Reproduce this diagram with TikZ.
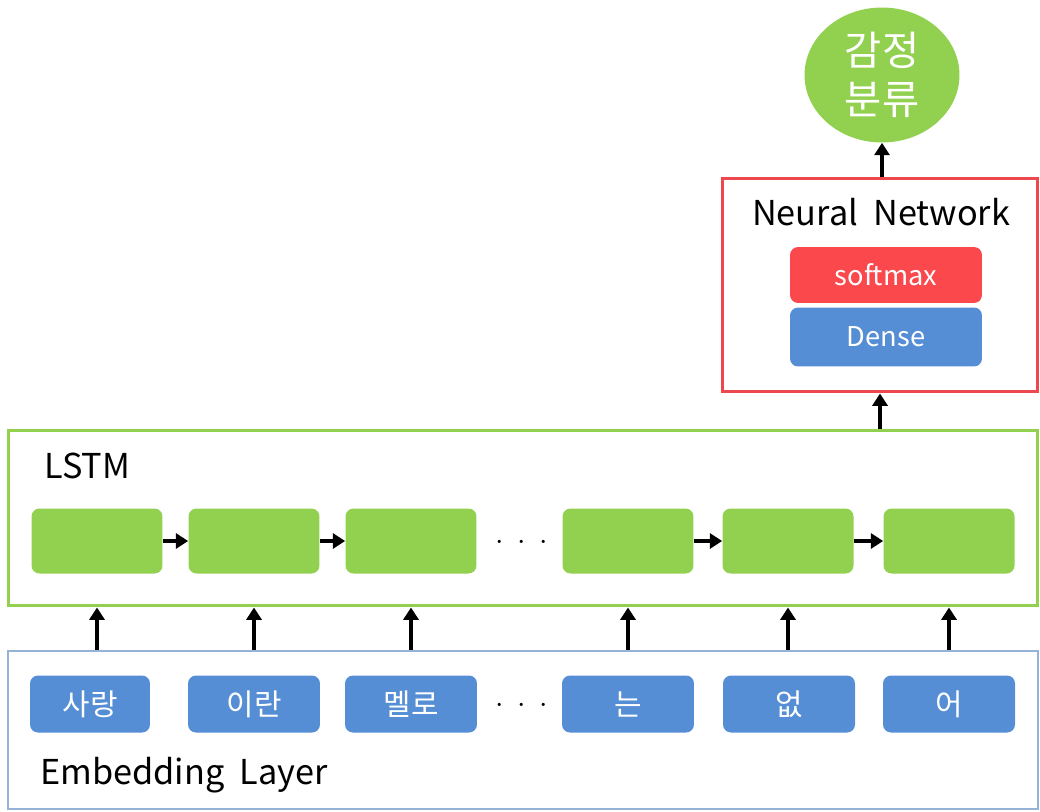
\documentclass[tikz,border=0pt]{standalone}
\usepackage{fontspec}
\setmainfont{Noto Sans CJK KR}
\usetikzlibrary{shapes.geometric,arrows.meta}
\definecolor{cellgreen}{RGB}{146,208,80}
\definecolor{wordblue}{RGB}{85,142,213}
\definecolor{embedline}{RGB}{149,179,215}
\definecolor{nnred}{RGB}{236,72,78}
\definecolor{softred}{RGB}{250,72,76}
\begin{document}
\begin{tikzpicture}[x=0.02cm,y=-0.02cm,
                    cell/.style={rectangle,rounded corners=0.16cm,fill=cellgreen,minimum width=2.62cm,minimum height=1.3cm,inner sep=0pt},
                    word/.style={rectangle,rounded corners=0.16cm,fill=wordblue,text=white,minimum width=2.64cm,minimum height=1.14cm,inner sep=0pt,font=\fontsize{17}{20}\selectfont},
                    layer/.style={rectangle,line width=1.7pt,inner sep=0pt},
                    title/.style={anchor=west,inner sep=0pt,font=\fontsize{19.5}{23}\selectfont},
                    dots/.style={inner sep=0pt,font=\fontsize{17}{17}\selectfont},
                    arr/.style={-{Triangle[length=7pt,width=8.5pt]},line width=2.2pt}
                   ]
  \useasboundingbox (0,0) rectangle (1040,811);

  % layers
  \node[layer,draw=cellgreen,minimum width=20.6cm,minimum height=3.52cm] (lstm) at (523,518) {};
  \node[layer,draw=embedline,line width=1.4pt,minimum width=20.6cm,minimum height=3.16cm] (emb) at (523,730) {};
  \node[layer,draw=nnred,minimum width=6.32cm,minimum height=4.28cm] (nn) at (880,285) {};
  \node[ellipse,fill=cellgreen,text=white,minimum width=3.1cm,minimum height=2.7cm,inner sep=0pt,align=center,
        font=\fontsize{23}{28}\selectfont] (cls) at (882,75) {감정\\분류};

  \node[title] (lstmtext) at (44,466) {LSTM};
  \node[title] (embtext) at (40,775) {Embedding\ \ Layer};
  \node[inner sep=0pt,font=\fontsize{19.5}{23}\selectfont] (nntext) at (881,212) {Neural\ \ Network};

  \node[rectangle,rounded corners=0.16cm,fill=softred,text=white,minimum width=3.84cm,minimum height=1.12cm,
        font=\fontsize{15.5}{18}\selectfont] (soft) at (886,275) {softmax};
  \node[rectangle,rounded corners=0.16cm,fill=wordblue,text=white,minimum width=3.84cm,minimum height=1.18cm,
        font=\fontsize{15.5}{18}\selectfont] (dense) at (886,337) {Dense};

  % lstm cells
  \node[cell] (c1) at (97,541) {};
  \node[cell] (c2) at (254,541) {};
  \node[cell] (c3) at (411,541) {};
  \node[dots] (cdots) at (522,543) {$\cdotp\;\cdotp\;\cdotp$};
  \node[cell] (c4) at (628,541) {};
  \node[cell] (c5) at (788,541) {};
  \node[cell] (c6) at (949,541) {};

  % words
  \node[word,minimum width=2.4cm] (w1) at (90,704) {사랑};
  \node[word] (w2) at (254,704) {이란};
  \node[word] (w3) at (411,704) {멜로};
  \node[dots] (wdots) at (522,706) {$\cdotp\;\cdotp\;\cdotp$};
  \node[word] (w4) at (628,704) {는};
  \node[word] (w5) at (789,704) {없};
  \node[word] (w6) at (949,704) {어};

  \path%
   (c1) edge [arr] (c2)
   (c2) edge [arr] (c3)
   (c4) edge [arr] (c5)
   (c5) edge [arr] (c6)
   (c1 |- emb.north) edge [arr] (c1 |- lstm.south)
   (c2 |- emb.north) edge [arr] (c2 |- lstm.south)
   (c3 |- emb.north) edge [arr] (c3 |- lstm.south)
   (c4 |- emb.north) edge [arr] (c4 |- lstm.south)
   (c5 |- emb.north) edge [arr] (c5 |- lstm.south)
   (c6 |- emb.north) edge [arr] (c6 |- lstm.south)
   (nn.south |- lstm.north) edge [arr] (nn.south)
   (cls |- nn.north) edge [arr] (cls.south);
\end{tikzpicture}
\end{document}
